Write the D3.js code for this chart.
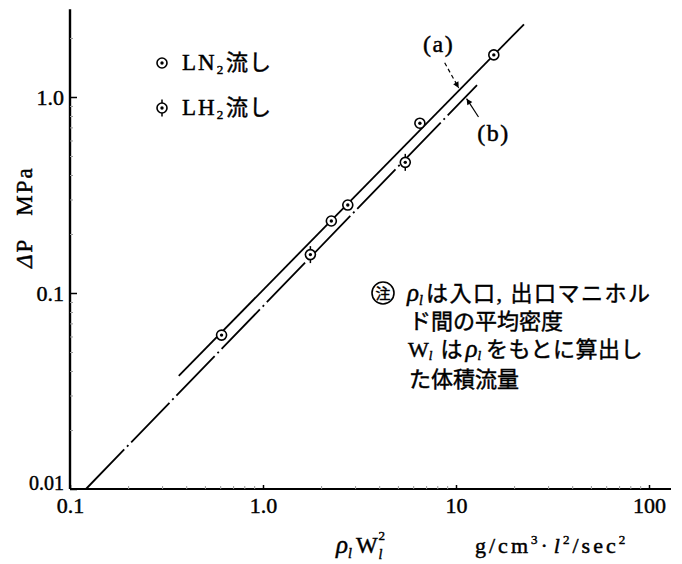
<!DOCTYPE html>
<html><head><meta charset="utf-8">
<script src="https://cdn.jsdelivr.net/npm/d3@7"></script>
<style>
html,body{margin:0;padding:0;background:#fff;}
svg{display:block;background:#fff;}
text{font-family:'Liberation Serif','Noto Sans CJK JP',serif;fill:#000;stroke:#000;stroke-width:0.45px;}
</style></head><body>
<svg id="chart" width="682" height="564"></svg>
<script>
// ΔP (MPa) against ρl·Wl² (g/cm³·l²/sec²), log–log
const ln2Flow    = [0.61, 2.26, 2.75, 6.5, 15.7];
const ln2DeltaP  = [0.061, 0.233, 0.281, 0.735, 1.64];
const lh2Flow    = [1.76, 5.46];
const lh2DeltaP  = [0.157, 0.464];
const lineAFlow   = [0.366, 22.5];
const lineADeltaP = [0.0378, 2.35];
const lineBFlow   = [0.121, 12.85];
const lineBDeltaP = [0.01, 1.15];
const xTickValues = [0.1, 1, 10, 100];
const xTickLabels = ["0.1", "1.0", "10", "100"];
const yTickValues = [0.01, 0.1, 1];
const yTickLabels = ["0.01", "0.1", "1.0"];
const xMinorTicks = [0.2,0.3,0.4,0.5,0.6,0.7,0.8,0.9,2,3,4,5,6,7,8,9,20,30,40,50,60,70,80,90];
const yMinorTicks = [0.02,0.03,0.04,0.05,0.06,0.07,0.08,0.09,0.2,0.3,0.4,0.5,0.6,0.7,0.8,0.9,2];
const xAxisEnd = 130;
const yAxisEnd = 2.8;
const noteLines = ["は入口, 出口マニホル", "ド間の平均密度", "をもとに算出し", "た体積流量"];

const svg = d3.select("#chart");
const x = d3.scaleLog().domain([0.1, 100]).range([70, 649]);
const y = d3.scaleLog().domain([0.01, 1]).range([489, 97]);

// arrowhead for the leader lines
svg.append("defs").append("marker")
  .attr("id", "arrow").attr("viewBox", "0 0 10 10")
  .attr("refX", 10).attr("refY", 5)
  .attr("markerWidth", 9).attr("markerHeight", 6)
  .attr("markerUnits", "userSpaceOnUse")
  .attr("orient", "auto")
  .append("path").attr("d", "M0,0L10,5L0,10Z").attr("fill", "#000");

// axis lines
svg.append("line")
  .attr("x1", x(0.1)).attr("x2", x(0.1))
  .attr("y1", y(0.01)).attr("y2", y(yAxisEnd))
  .attr("stroke", "#000").attr("stroke-width", 2.4);
svg.append("line")
  .attr("x1", x(0.1)).attr("x2", x(xAxisEnd))
  .attr("y1", y(0.01)).attr("y2", y(0.01))
  .attr("stroke", "#000").attr("stroke-width", 2);

// minor ticks
const gyMinor = svg.append("g").attr("transform", `translate(${x(0.1)},0)`)
  .call(d3.axisLeft(y).tickValues(yMinorTicks).tickFormat("").tickSizeInner(-3).tickSizeOuter(0));
gyMinor.select(".domain").remove();
gyMinor.selectAll("line").attr("stroke", "#999").attr("stroke-width", 1);
const gxMinor = svg.append("g").attr("transform", `translate(0,${y(0.01)})`)
  .call(d3.axisBottom(x).tickValues(xMinorTicks).tickFormat("").tickSizeInner(-3).tickSizeOuter(0));
gxMinor.select(".domain").remove();
gxMinor.selectAll("line").attr("stroke", "#999").attr("stroke-width", 1);

// major ticks and labels
const gy = svg.append("g").attr("transform", `translate(${x(0.1)},0)`)
  .call(d3.axisLeft(y).tickValues(yTickValues).tickFormat((d, i) => yTickLabels[i])
    .tickSizeInner(-7).tickSizeOuter(0).tickPadding(6));
gy.attr("font-family", null).attr("font-size", 22);
gy.select(".domain").remove();
gy.selectAll("line").attr("stroke-width", 1.5);
gy.selectAll("text").filter(d => d === 0.01).attr("font-size", 20).attr("y", -6);

const gx = svg.append("g").attr("transform", `translate(0,${y(0.01)})`)
  .call(d3.axisBottom(x).tickValues(xTickValues).tickFormat((d, i) => xTickLabels[i])
    .tickSizeInner(-4).tickSizeOuter(0).tickPadding(8));
gx.attr("font-family", null).attr("font-size", 22);
gx.select(".domain").remove();
gx.selectAll("line").attr("stroke-width", 1.5);

// fitted lines
const line = d3.line().x(d => x(d[0])).y(d => y(d[1]));
svg.append("path")
  .datum(d3.zip(lineAFlow, lineADeltaP))
  .attr("d", line).attr("fill", "none")
  .attr("stroke", "#000").attr("stroke-width", 1.8);
svg.append("path")
  .datum(d3.zip(lineBFlow, lineBDeltaP))
  .attr("d", line).attr("fill", "none")
  .attr("stroke", "#000").attr("stroke-width", 1.8)
  .attr("stroke-dasharray", "55,4,2,4");

// markers
function ln2Marker(g) {
  g.append("circle").attr("r", 5).attr("fill", "#fff").attr("stroke", "#000").attr("stroke-width", 1.6);
  g.append("circle").attr("r", 1.7).attr("fill", "#000");
}
function lh2Marker(g) {
  g.append("line").attr("y1", -8.5).attr("y2", 8.5).attr("stroke", "#000").attr("stroke-width", 1.5);
  ln2Marker(g);
}
d3.zip(ln2Flow, ln2DeltaP).forEach(d => {
  svg.append("g").attr("transform", `translate(${x(d[0])},${y(d[1])})`).call(ln2Marker);
});
d3.zip(lh2Flow, lh2DeltaP).forEach(d => {
  svg.append("g").attr("transform", `translate(${x(d[0])},${y(d[1])})`).call(lh2Marker);
});

// legend
const legend = [
  {marker: ln2Marker, sym: "LN", sub: "2", y: 63},
  {marker: lh2Marker, sym: "LH", sub: "2", y: 108}
];
legend.forEach(e => {
  svg.append("g").attr("transform", `translate(162,${e.y})`).call(e.marker);
  const t = svg.append("text").attr("x", 182).attr("y", e.y + 7).attr("font-size", 23)
    .attr("letter-spacing", 2);
  t.append("tspan").text(e.sym);
  t.append("tspan").attr("font-size", 13).attr("dy", 4).attr("letter-spacing", 0).text(e.sub);
  t.append("tspan").attr("x", 226).attr("dy", -4).attr("font-size", 22).attr("letter-spacing", 1).text("流し");
});

// leader arrows to the lines
function onLine(xs, ys, v) {
  const t = (Math.log10(v) - Math.log10(xs[0])) / (Math.log10(xs[1]) - Math.log10(xs[0]));
  return Math.pow(10, Math.log10(ys[0]) + t * (Math.log10(ys[1]) - Math.log10(ys[0])));
}
function leader(tipFlow, xs, ys, off, dash, label, lab) {
  const tx = x(tipFlow), ty = y(onLine(xs, ys, tipFlow));
  const sx = tx + off[0], sy = ty + off[1];
  const len = Math.hypot(off[0], off[1]);
  const ex = tx + off[0] / len * 2, ey = ty + off[1] / len * 2;
  svg.append("line").attr("x1", sx).attr("y1", sy).attr("x2", ex).attr("y2", ey)
    .attr("stroke", "#000").attr("stroke-width", 1.2)
    .attr("stroke-dasharray", dash).attr("marker-end", "url(#arrow)");
  svg.append("text").attr("x", sx + lab[0]).attr("y", sy + lab[1])
    .attr("text-anchor", "middle").attr("font-size", 24).attr("letter-spacing", 1.5).text(label);
}
leader(10.45, lineAFlow, lineADeltaP, [-15, -27], "4,3", "(a)", [-6, -11]);
leader(11.2, lineBFlow, lineBDeltaP, [13, 20], null, "(b)", [15, 24]);

// axis titles
const yt = svg.append("text").attr("transform", "translate(32,268) rotate(-90)")
  .attr("font-size", 23).attr("letter-spacing", 2);
yt.append("tspan").attr("font-style", "italic").text("Δ");
yt.append("tspan").text("P");
yt.append("tspan").attr("dx", 22).text("MPa");

const xt = svg.append("text").attr("x", 336).attr("y", 553).attr("font-size", 23);
xt.append("tspan").attr("font-style", "italic").attr("font-size", 25).text("ρ");
xt.append("tspan").attr("font-style", "italic").attr("font-size", 14).attr("dy", 5).text("l");
xt.append("tspan").attr("dy", -5).attr("dx", 4).text("W");
const xtEnd = 336 + xt.node().getComputedTextLength() + 5;
svg.append("text").attr("x", xtEnd).attr("y", 540).attr("font-size", 13).text("2");
svg.append("text").attr("x", xtEnd).attr("y", 559).attr("font-size", 14).attr("font-style", "italic").text("l");

const ut = svg.append("text").attr("x", 475).attr("y", 553).attr("font-size", 22).attr("letter-spacing", 3);
ut.append("tspan").text("g/cm");
ut.append("tspan").attr("font-size", 13).attr("dy", -9).text("3");
ut.append("tspan").attr("dy", 9).text("·");
ut.append("tspan").attr("dx", 3).attr("font-style", "italic").text("l");
ut.append("tspan").attr("font-size", 13).attr("dy", -9).text("2");
ut.append("tspan").attr("dy", 9).text("/sec");
ut.append("tspan").attr("font-size", 13).attr("dy", -9).text("2");

// note
svg.append("circle").attr("cx", 383).attr("cy", 293).attr("r", 11)
  .attr("fill", "none").attr("stroke", "#000").attr("stroke-width", 1.6);
svg.append("text").attr("x", 383).attr("y", 299).attr("text-anchor", "middle")
  .attr("font-size", 15).text("注");

const n1 = svg.append("text").attr("x", 407).attr("y", 301).attr("font-size", 22);
n1.append("tspan").attr("font-style", "italic").attr("font-size", 25).text("ρ");
n1.append("tspan").attr("font-style", "italic").attr("font-size", 14).attr("dy", 4).text("l");
n1.append("tspan").attr("dy", -4).attr("dx", 3).attr("letter-spacing", 1.5).text(noteLines[0]);

svg.append("text").attr("x", 409).attr("y", 329).attr("font-size", 22).text(noteLines[1]);

const n3 = svg.append("text").attr("x", 408).attr("y", 357).attr("font-size", 22);
n3.append("tspan").text("W");
n3.append("tspan").attr("font-style", "italic").attr("font-size", 13).attr("dy", 3).text("l");
n3.append("tspan").attr("dy", -3).attr("dx", 8).text("は");
n3.append("tspan").attr("dx", 3).attr("font-style", "italic").attr("font-size", 25).text("ρ");
n3.append("tspan").attr("font-style", "italic").attr("font-size", 13).attr("dy", 3).text("l");
n3.append("tspan").attr("dy", -3).attr("dx", 5).attr("letter-spacing", 0.5).text(noteLines[2]);

svg.append("text").attr("x", 409).attr("y", 387).attr("font-size", 22).text(noteLines[3]);
</script>
</body></html>
